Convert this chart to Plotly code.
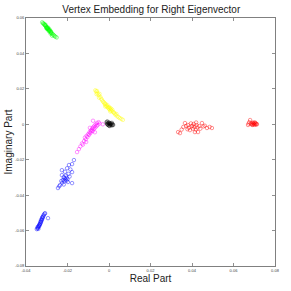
import plotly.graph_objects as go

green_x = [-0.0322, -0.0318, -0.0315, -0.0312, -0.0310, -0.0308, -0.0305, -0.0303, -0.0300, -0.0298,
           -0.0296, -0.0294, -0.0292, -0.0290, -0.0296, -0.0300, -0.0288, -0.0285, -0.0283, -0.0280,
           -0.0278, -0.0275, -0.0270, -0.0266, -0.0262, -0.0258, -0.0252, -0.0274, -0.0282, -0.0306,
           -0.0290, -0.0302, -0.0286, -0.0279, -0.0293]
green_y = [0.0576, 0.0570, 0.0568, 0.0565, 0.0560, 0.0558, 0.0556, 0.0550, 0.0548, 0.0545,
           0.0541, 0.0540, 0.0536, 0.0533, 0.0536, 0.0540, 0.0530, 0.0527, 0.0522, 0.0520,
           0.0515, 0.0512, 0.0508, 0.0503, 0.0498, 0.0494, 0.0490, 0.0500, 0.0512, 0.0562,
           0.0526, 0.0543, 0.0535, 0.0524, 0.0546]

yellow_x = [-0.0066, -0.0062, -0.0058, -0.0055, -0.0060, -0.0050, -0.0046, -0.0042, -0.0048, -0.0038,
            -0.0034, -0.0030, -0.0026, -0.0022, -0.0020, -0.0016, -0.0014, -0.0010, -0.0008, -0.0005,
            -0.0002, 0.0000, 0.0002, 0.0005, 0.0008, 0.0010, 0.0013, 0.0016, 0.0020, 0.0024,
            0.0028, 0.0032, 0.0036, 0.0040, 0.0046, 0.0052, 0.0060, 0.0067, -0.0018, 0.0006]
yellow_y = [0.0192, 0.0185, 0.0188, 0.0175, 0.0170, 0.0165, 0.0172, 0.0155, 0.0150, 0.0145,
            0.0138, 0.0130, 0.0125, 0.0120, 0.0112, 0.0115, 0.0105, 0.0100, 0.0108, 0.0095,
            0.0090, 0.0098, 0.0085, 0.0092, 0.0080, 0.0088, 0.0075, 0.0082, 0.0070, 0.0065,
            0.0060, 0.0052, 0.0058, 0.0045, 0.0040, 0.0035, 0.0030, 0.0025, 0.0100, 0.0072]

magenta_x = [-0.0154, -0.0145, -0.0138, -0.0130, -0.0126, -0.0120, -0.0116, -0.0112, -0.0108, -0.0104,
             -0.0100, -0.0096, -0.0094, -0.0090, -0.0088, -0.0085, -0.0082, -0.0080, -0.0078, -0.0075,
             -0.0072, -0.0070, -0.0066, -0.0064, -0.0060, -0.0058, -0.0055, -0.0050, -0.0046, -0.0077,
             -0.0030, -0.0092, -0.0110, -0.0068]
magenta_y = [-0.0157, -0.0140, -0.0125, -0.0108, -0.0115, -0.0095, -0.0075, -0.0085, -0.0065, -0.0072,
             -0.0055, -0.0060, -0.0045, -0.0050, -0.0035, -0.0040, -0.0030, -0.0022, -0.0038, -0.0015,
             -0.0025, -0.0008, -0.0018, 0.0000, -0.0010, 0.0008, -0.0004, 0.0012, 0.0004, 0.0020,
             0.0000, -0.0020, -0.0100, -0.0045]

black_x = [-0.0012, -0.0008, -0.0005, -0.0002, 0.0000, 0.0002, 0.0004, 0.0006, 0.0008, 0.0010,
           0.0012, 0.0015, -0.0004, 0.0000, 0.0004, -0.0008, 0.0018, 0.0014, 0.0020, -0.0010]
black_y = [0.0012, 0.0016, 0.0008, 0.0004, 0.0010, 0.0000, 0.0006, -0.0002, 0.0004, -0.0004,
           0.0002, -0.0006, -0.0004, -0.0008, -0.0010, 0.0000, 0.0000, 0.0008, -0.0004, 0.0004]

blue_x = [-0.0169, -0.0178, -0.0193, -0.0202, -0.0186, -0.0227, -0.0178, -0.0212, -0.0227, -0.0195,
          -0.0208, -0.0218, -0.0205, -0.0214, -0.0200, -0.0210, -0.0222, -0.0204, -0.0215, -0.0198,
          -0.0226, -0.0178, -0.0236, -0.0218, -0.0246, -0.0190, -0.0230, -0.0240,
          -0.0348, -0.0345, -0.0342, -0.0344, -0.0340, -0.0338, -0.0336, -0.0334, -0.0332, -0.0335,
          -0.0330, -0.0328, -0.0331, -0.0326, -0.0324, -0.0327, -0.0322, -0.0320, -0.0318, -0.0322,
          -0.0316, -0.0314, -0.0310, -0.0308, -0.0294, -0.0340]
blue_y = [-0.0202, -0.0225, -0.0230, -0.0248, -0.0255, -0.0259, -0.0270, -0.0268, -0.0287, -0.0280,
          -0.0290, -0.0298, -0.0302, -0.0305, -0.0310, -0.0312, -0.0315, -0.0318, -0.0322, -0.0326,
          -0.0330, -0.0332, -0.0343, -0.0340, -0.0360, -0.0295, -0.0320, -0.0350,
          -0.0592, -0.0588, -0.0584, -0.0580, -0.0578, -0.0572, -0.0575, -0.0568, -0.0562, -0.0565,
          -0.0558, -0.0552, -0.0550, -0.0546, -0.0540, -0.0538, -0.0534, -0.0528, -0.0522, -0.0525,
          -0.0516, -0.0510, -0.0505, -0.0502, -0.0530, -0.0590]

red_x = [0.0333, 0.0342, 0.0350, 0.0358, 0.0366, 0.0372, 0.0380, 0.0385, 0.0390, 0.0395,
         0.0398, 0.0402, 0.0405, 0.0408, 0.0412, 0.0414, 0.0418, 0.0422, 0.0426, 0.0429,
         0.0435, 0.0440, 0.0448, 0.0455, 0.0462, 0.0472, 0.0485, 0.0496, 0.0378, 0.0420,
         0.0670, 0.0673, 0.0676, 0.0680, 0.0684, 0.0688, 0.0692, 0.0695, 0.0698, 0.0700,
         0.0702, 0.0705, 0.0708, 0.0710, 0.0713, 0.0694, 0.0704, 0.0690]
red_y = [-0.0044, -0.0050, -0.0030, -0.0015, 0.0007, -0.0010, -0.0004, -0.0020, -0.0033, 0.0005,
         -0.0012, -0.0008, -0.0025, 0.0002, -0.0015, -0.0044, -0.0030, -0.0005, -0.0018, -0.0044,
         -0.0010, -0.0025, 0.0007, -0.0012, -0.0008, -0.0021, -0.0015, -0.0021, -0.0028, 0.0010,
         -0.0004, 0.0004, 0.0012, 0.0024, 0.0002, 0.0006, -0.0002, 0.0004, 0.0000, 0.0008,
         -0.0003, 0.0002, 0.0005, -0.0002, 0.0001, 0.0010, 0.0010, -0.0004]

series = [
    (red_x, red_y, "#ff0000"),
    (green_x, green_y, "#00ff00"),
    (blue_x, blue_y, "#0000ff"),
    (yellow_x, yellow_y, "#ffff00"),
    (magenta_x, magenta_y, "#ff00ff"),
    (black_x, black_y, "#000000"),
]

x_ticks = [-0.04, -0.02, 0, 0.02, 0.04, 0.06, 0.08]
x_tick_text = ["-0.04", "-0.02", "0", "0.02", "0.04", "0.06", "0.08"]
y_ticks = [-0.08, -0.06, -0.04, -0.02, 0, 0.02, 0.04, 0.06]
y_tick_text = ["-0.08", "-0.06", "-0.04", "-0.02", "0", "0.02", "0.04", "0.06"]

fig = go.Figure()
for xs, ys, col in series:
    fig.add_trace(go.Scatter(
        x=xs, y=ys, mode="markers",
        marker=dict(symbol="circle-open", size=3.5, color=col, opacity=0.7,
                    line=dict(width=0.6, color=col)),
        showlegend=False, hoverinfo="skip",
    ))

axis_common = dict(
    showgrid=False, zeroline=False, showline=True, linecolor="#808080", linewidth=1,
    mirror="ticks", ticks="inside", ticklen=3, tickcolor="#909090", automargin=False,
    tickfont=dict(size=4, color="#444444", family="Liberation Sans"),
)

fig.update_layout(
    width=291, height=291,
    margin=dict(l=26, r=16, t=18, b=25, autoexpand=False),
    paper_bgcolor="white", plot_bgcolor="white",
    title=dict(text="Vertex Embedding for Right Eigenvector", x=0.52, xanchor="center",
               y=0.968, yanchor="middle",
               font=dict(size=10, family="Liberation Sans", color="#222222")),
    xaxis=dict(range=[-0.04, 0.08], tickvals=x_ticks, ticktext=x_tick_text,
               title=dict(text="Real Part", standoff=0,
                          font=dict(size=10, family="Liberation Sans", color="#222222")),
               **axis_common),
    yaxis=dict(range=[-0.08, 0.06], tickvals=y_ticks, ticktext=y_tick_text,
               title=dict(text="Imaginary Part", standoff=0,
                          font=dict(size=10, family="Liberation Sans", color="#222222")),
               **axis_common),
)

fig.write_html("out.html", config={"displayModeBar": False},
               post_script="document.body.style.margin='0px';")
